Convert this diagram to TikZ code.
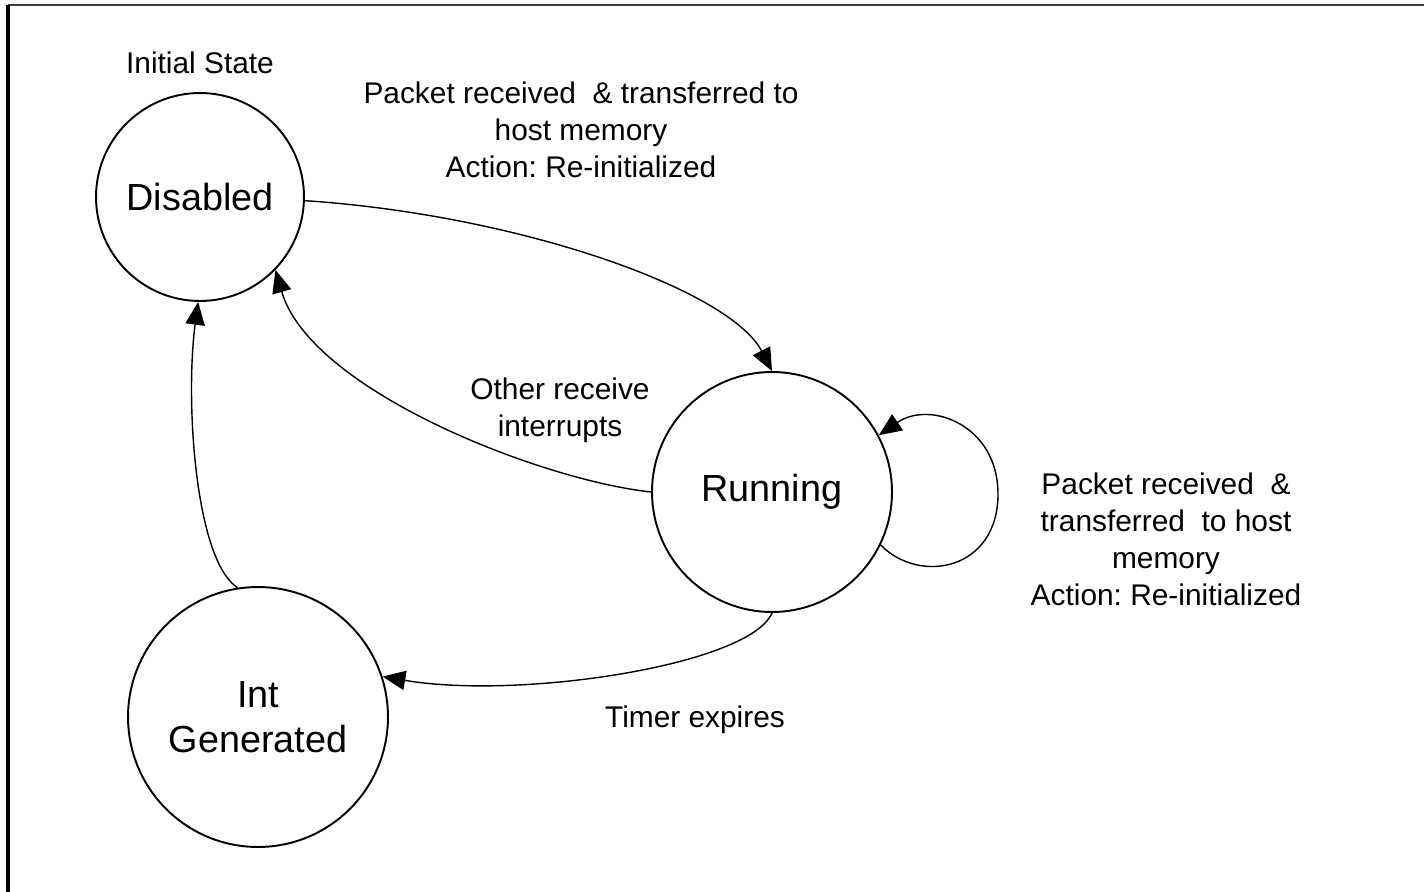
\documentclass[tikz,border=0pt]{standalone}
\usepackage{fontspec}
\setmainfont{Liberation Sans}
\frenchspacing
\usetikzlibrary{arrows.meta}

\tikzset{
  state/.style={draw,circle,line width=1.1pt,font=\fontsize{21.5}{25.5}\selectfont,align=center,inner sep=0pt},
  lbl/.style={align=center,font=\fontsize{17}{21}\selectfont,inner sep=0pt},
  trans/.style={line width=0.8pt,-{Triangle[length=13pt,width=11pt]}}
}

\begin{document}
\begin{tikzpicture}[x=0.02cm,y=-0.02cm]
\path[use as bounding box] (0,0) rectangle (1424,892);
\draw[black!75,line width=1.4pt] (8,5) -- (1424,5);
\draw[line width=2pt] (8,892) -- (8,5);

\node[state,minimum size=4.16cm] (dis) at (200,197) {Disabled};
\node[state,minimum size=4.8cm] (run) at (772,492) {Running};
\node[state,minimum size=5.2cm] (int) at (258,717) {Int\\Generated};

\node[lbl] (init) at (200,63) {Initial State};
\node[lbl] (rcv) at (581,130) {Packet received\ \ \& transferred to\\host memory\\Action: Re-initialized};
\node[lbl] (other) at (560,410) {Other receive\\interrupts};
\node[lbl] (loop) at (1166,539) {Packet received\ \ \&\\transferred\ \ to host\\memory\\Action: Re-initialized};
\node[lbl] (timer) at (695,720) {Timer expires};

\draw[trans] (dis.-2) .. controls (520,215) and (730,290) .. (run.90);
\draw[trans] (run.180) .. controls (540,480) and (310,390) .. (dis.-44);
\draw[trans] (run.-26) .. controls (920,585) and (998,570) .. (998,494)
  .. controls (998,425) and (930,400) .. (run.28);
\draw[trans] (run.-90) .. controls (750,665) and (520,700) .. (int.18);
\draw[trans] (int.99) .. controls (195,560) and (185,400) .. (dis.-91);
\end{tikzpicture}
\end{document}
